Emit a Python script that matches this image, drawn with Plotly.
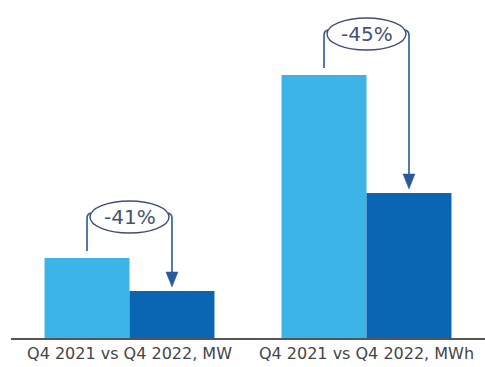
import plotly.graph_objects as go

categories = ["Q4 2021 vs Q4 2022, MW", "Q4 2021 vs Q4 2022, MWh"]
values_2021 = [80, 263]
values_2022 = [47, 145]
change_labels = ["-41%", "-45%"]

LIGHT = "#3cb4e8"
DARK = "#0a66b2"
LINE = "#2a5a9a"
ELL = "#3f4d72"
TXT = "#46526f"

W, H = 485, 367
ML, MR, MT, MB = 11, 0, 0, 29
plot_w = W - ML - MR
plot_h = H - MT - MB
n = len(categories)
px_per_x = plot_w / n          # x range is [-0.5, n-0.5]
px_per_y = 1.0                 # y range is [0, plot_h]
bargap = 0.283
bar_w = (1 - bargap) / 2

fig = go.Figure()
fig.add_trace(go.Bar(x=list(range(n)), y=values_2021, marker_color=LIGHT,
                     marker_line_width=0, name="Q4 2021"))
fig.add_trace(go.Bar(x=list(range(n)), y=values_2022, marker_color=DARK,
                     marker_line_width=0, name="Q4 2022"))

shapes = []
annotations = []
dx = lambda p: p / px_per_x
dy = lambda p: p / px_per_y
for i in range(n):
    xl = i - bar_w / 2
    xr = i + bar_w / 2
    top1 = values_2021[i]
    top2 = values_2022[i]
    cy = top1 + dy(41)
    cx = i
    rx = (xr - xl) / 2 - dx(3)
    ry = dy(16)
    # left vertical
    shapes.append(dict(type="path", xref="x", yref="y",
                       path=f"M {xl},{top1 + dy(7)} L {xl},{cy - dy(1)} Q {xl},{cy + dy(3)} {cx - rx + dx(1)},{cy + dy(4)}",
                       line=dict(color=LINE, width=1.6)))
    # right vertical down to arrow
    tip = top2 + dy(4)
    shapes.append(dict(type="path", xref="x", yref="y",
                       path=f"M {cx + rx - dx(1)},{cy + dy(4)} Q {xr},{cy + dy(3)} {xr},{cy - dy(1)} L {xr},{tip + dy(12)}",
                       line=dict(color=LINE, width=1.6)))
    shapes.append(dict(type="path", xref="x", yref="y",
                       path=f"M {xr - dx(6)},{tip + dy(15)} L {xr + dx(6)},{tip + dy(15)} L {xr},{tip} Z",
                       fillcolor=LINE, line=dict(color=LINE, width=0.5)))
    # ellipse
    shapes.append(dict(type="circle", xref="x", yref="y",
                       x0=cx - rx, x1=cx + rx, y0=cy - ry, y1=cy + ry,
                       fillcolor="white", line=dict(color=ELL, width=1.4)))
    annotations.append(dict(x=cx, y=cy, xref="x", yref="y", text=change_labels[i],
                            showarrow=False, font=dict(family="DejaVu Sans", size=20, color=TXT)))

fig.update_layout(
    width=W, height=H,
    margin=dict(l=ML, r=MR, t=MT, b=MB),
    paper_bgcolor="white", plot_bgcolor="white",
    barmode="group", bargap=bargap, bargroupgap=0,
    showlegend=False,
    shapes=shapes, annotations=annotations,
    xaxis=dict(range=[-0.5, n - 0.5], tickmode="array", tickvals=list(range(n)),
               ticktext=categories, showline=True, linecolor="#555555", linewidth=1.5,
               showgrid=False, zeroline=False, ticks="",
               tickfont=dict(family="DejaVu Sans", size=16, color="#454545")),
    yaxis=dict(range=[0, plot_h], visible=False, showgrid=False, zeroline=False),
)

fig.write_html("out.html")
